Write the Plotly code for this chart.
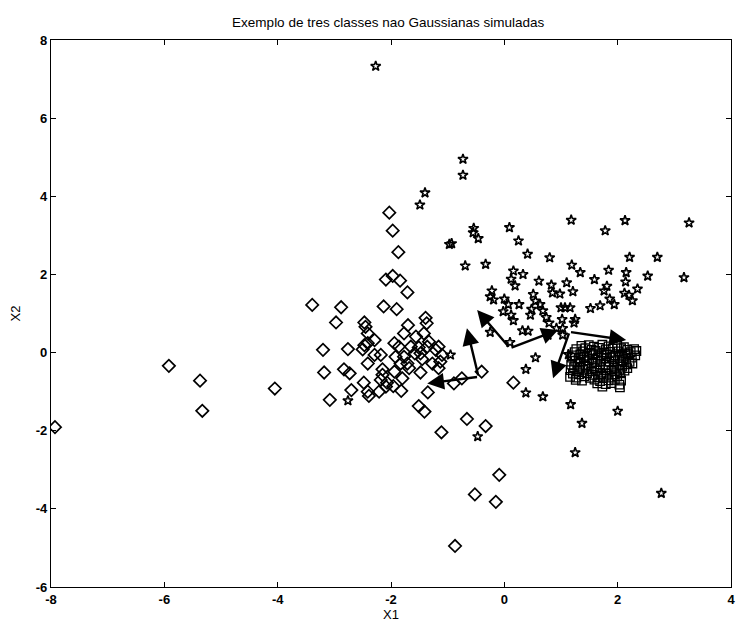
import plotly.graph_objects as go

# ---- data ----
DIAMOND_X = [-7.93, -5.92, -5.37, -5.33, -4.05,
             -3.39, -2.88, -2.97, -3.20, -2.76, -3.18, -2.83, -2.73, -2.70, -3.08,
             -2.03, -1.97, -1.87, -2.09, -1.97, -1.84, -1.71, -2.13, -1.90,
             -2.47, -2.45, -2.41, -2.29, -2.47, -2.41, -2.50, -2.29, -2.18, -2.41, -2.48, -2.41, -2.39, -2.21,
             -2.15, -2.15, -2.18, -2.07, -2.09, -1.96, -1.94, -1.86, -1.92, -1.83, -1.94, -1.80, -1.82,
             -1.71, -1.68, -1.77, -1.70, -1.77, -1.56, -1.65, -1.58, -1.45, -1.48, -1.39, -1.37, -1.42,
             -1.33, -1.36, -1.51, -1.48, -1.27, -1.16, -1.10, -1.21, -1.13, -1.16, -1.35,
             -1.51, -1.41, -1.11, -0.66, -0.33, -0.09, -0.52, -0.15, -0.87,
             -0.89, -0.75, -0.40, 0.16]
DIAMOND_Y = [-1.91, -0.34, -0.72, -1.49, -0.92,
             1.22, 1.16, 0.77, 0.07, 0.09, -0.51, -0.43, -0.53, -0.96, -1.21,
             3.58, 3.12, 2.57, 1.87, 1.96, 1.84, 1.54, 1.18, 1.11,
             0.77, 0.66, 0.49, 0.32, 0.19, 0.24, 0.08, -0.06, -0.06, -0.28, -0.77, -1.00, -1.11, -1.00,
             -0.43, -0.57, -0.70, -0.77, -0.87, -0.86, 0.24, 0.15, -0.11, -0.28, -0.49, -0.66, -0.98,
             -0.28, -0.40, -0.11, 0.70, 0.49, 0.41, 0.15, -0.02, -0.17, -0.51, 0.89, 0.75, 0.49,
             0.28, 0.15, 0.13, -0.02, -0.28, 0.15, -0.06, 0.07, -0.23, -0.40, -1.02,
             -1.37, -1.51, -2.04, -1.70, -1.88, -3.13, -3.63, -3.82, -4.95,
             -0.79, -0.66, -0.49, -0.77]

STAR_X = [-2.27,
          -0.73, -0.73, -1.40, -1.49,
          -0.54, -0.55, -0.46, -0.97, -0.93,
          0.09, 1.18, 0.25, 1.78, 2.13, 3.26,
          0.41, 0.80, -0.69, -0.33, 1.19, 1.34, 2.21, 2.70,
          0.16, 0.33, 0.12, 0.19, 0.61, 0.83, 0.85, 0.98, 1.10, 1.21, 1.59, 1.84, 2.15, 2.14, 2.53, 3.17,
          1.76, 1.81, 2.12, 2.20, 2.35, 2.26, 1.86, 1.94,
          -0.22, -0.25, -0.19, 0.00, 0.07, -0.02, 0.12, 0.16, 0.26, 0.51, 0.55, 0.63, 0.48, 0.46, 0.68,
          0.74, 0.79,
          1.00, 1.07, 1.16, 1.52, 1.69, 1.02, 1.25, 1.23, 0.92, 1.03, 1.03, 0.77, 0.32, 0.42, -0.25, 0.10,
          -0.95, 0.55, 0.38, 1.13, 0.38, 0.68, 1.17, 2.00, 1.37, 1.25, 2.77, -0.47, -2.76]
STAR_Y = [7.33,
          4.95, 4.54, 4.09, 3.78,
          3.18, 3.07, 2.92, 2.77, 2.79,
          3.20, 3.39, 2.86, 3.12, 3.38, 3.32,
          2.52, 2.43, 2.22, 2.26, 2.24, 2.05, 2.44, 2.44,
          2.09, 2.00, 1.88, 1.71, 1.83, 1.73, 1.53, 1.50, 1.79, 1.56, 1.87, 2.11, 2.05, 1.81, 1.96, 1.92,
          1.58, 1.70, 1.52, 1.47, 1.63, 1.33, 1.37, 1.23,
          1.58, 1.43, 1.35, 1.37, 1.23, 1.05, 0.96, 0.82, 1.23, 1.49, 1.32, 1.23, 1.11, 0.96, 1.07,
          0.90, 0.76,
          1.15, 1.15, 1.15, 1.13, 1.20, 0.85, 0.85, 0.76, 0.62, 0.62, 0.45, 0.45, 0.56, 0.55, 0.52, 0.26,
          -0.06, -0.13, -0.43, -0.05, -1.03, -1.13, -1.33, -1.50, -1.81, -2.56, -3.60, -2.15, -1.23]

SQUARE_X = [1.36, 1.49, 1.58, 1.73, 1.84, 1.99, 2.11,
            1.27, 1.43, 1.54, 1.67, 1.79, 1.91, 2.06, 2.17, 2.29,
            1.24, 1.39, 1.51, 1.61, 1.76, 1.87, 2.01, 2.13, 2.23, 2.33,
            1.21, 1.34, 1.46, 1.57, 1.71, 1.81, 1.96, 2.07, 2.19, 2.31,
            1.19, 1.31, 1.41, 1.55, 1.65, 1.79, 1.89, 2.03, 2.15, 2.25,
            1.25, 1.35, 1.49, 1.61, 1.71, 1.85, 1.95, 2.09, 2.21,
            1.18, 1.29, 1.43, 1.55, 1.69, 1.79, 1.93, 2.05, 2.15, 2.26,
            1.23, 1.34, 1.47, 1.59, 1.69, 1.84, 1.94, 2.08, 2.17,
            1.17, 1.29, 1.39, 1.53, 1.64, 1.78, 1.89, 2.03, 2.12,
            1.21, 1.32, 1.46, 1.56, 1.71, 1.81, 1.95, 2.05,
            1.16, 1.27, 1.41, 1.51, 1.65, 1.75, 1.89, 1.99,
            1.26, 1.37, 1.59, 1.69, 1.84, 1.95, 2.06,
            1.64, 1.79, 1.89, 2.03,
            1.73, 2.04]
SQUARE_Y = [0.17, 0.19, 0.15, 0.20, 0.16, 0.18, 0.14,
            0.09, 0.11, 0.07, 0.12, 0.08, 0.10, 0.11, 0.07, 0.09,
            0.01, 0.03, -0.01, 0.04, 0.00, 0.02, 0.03, -0.02, 0.01, 0.04,
            -0.07, -0.05, -0.08, -0.04, -0.07, -0.05, -0.08, -0.06, -0.04, -0.07,
            -0.13, -0.15, -0.12, -0.16, -0.13, -0.15, -0.12, -0.14, -0.16, -0.13,
            -0.21, -0.23, -0.20, -0.24, -0.21, -0.23, -0.22, -0.20, -0.24,
            -0.31, -0.29, -0.32, -0.28, -0.30, -0.31, -0.29, -0.32, -0.30, -0.28,
            -0.37, -0.39, -0.36, -0.40, -0.38, -0.37, -0.39, -0.36, -0.40,
            -0.45, -0.47, -0.44, -0.48, -0.46, -0.45, -0.47, -0.44, -0.46,
            -0.54, -0.56, -0.53, -0.57, -0.55, -0.54, -0.56, -0.53,
            -0.62, -0.64, -0.61, -0.65, -0.63, -0.62, -0.64, -0.61,
            -0.70, -0.72, -0.69, -0.73, -0.71, -0.70, -0.72,
            -0.79, -0.81, -0.78, -0.82,
            -0.87, -0.89]

# arrows: origin -> tip (two per class)
ARROW_X0 = [-0.455, -0.455, 0.10, 0.10, 1.15, 1.15]
ARROW_Y0 = [-0.62, -0.62, 0.11, 0.11, 0.53, 0.53]
ARROW_X1 = [-1.36, -0.66, -0.48, 0.95, 2.15, 0.86]
ARROW_Y1 = [-0.79, 0.62, 1.09, 0.58, 0.32, -0.66]

X_TICKS = [-8, -6, -4, -2, 0, 2, 4]
Y_TICKS = [-6, -4, -2, 0, 2, 4, 6, 8]

FONT = "Liberation Sans, Arial, sans-serif"

fig = go.Figure()
fig.add_trace(go.Scatter(x=DIAMOND_X, y=DIAMOND_Y, mode="markers", name="classe 1",
                         marker=dict(symbol="diamond-open", size=9.5, color="black",
                                     line=dict(width=1.7, color="black"))))
fig.add_trace(go.Scatter(x=STAR_X, y=STAR_Y, mode="markers", name="classe 2",
                         marker=dict(symbol="star-open", size=7.5, color="black",
                                     line=dict(width=1.6, color="black"))))
fig.add_trace(go.Scatter(x=SQUARE_X, y=SQUARE_Y, mode="markers", name="classe 3",
                         marker=dict(symbol="square-open", size=8.5, color="black",
                                     line=dict(width=1.3, color="black"))))

for x0, y0, x1, y1 in zip(ARROW_X0, ARROW_Y0, ARROW_X1, ARROW_Y1):
    fig.add_annotation(x=x1, y=y1, ax=x0, ay=y0, xref="x", yref="y", axref="x", ayref="y",
                       text="", showarrow=True, arrowhead=2, arrowsize=1.4,
                       arrowwidth=2.4, arrowcolor="black")

axis_common = dict(showgrid=False, zeroline=False, showline=True, linecolor="black",
                   linewidth=1.3, mirror="ticks", ticks="inside", ticklen=5,
                   tickcolor="black", tickwidth=1.3, ticklabeloverflow="allow",
                   automargin=False,
                   tickfont=dict(family=FONT, size=13, color="black", weight="bold"))

fig.update_xaxes(range=[-8, 4], tickvals=X_TICKS, ticktext=[str(v) for v in X_TICKS],
                 title=dict(text="X1", font=dict(family=FONT, size=13, color="black"), standoff=4),
                 **axis_common)
fig.update_yaxes(range=[-6, 8], tickvals=Y_TICKS, ticktext=[str(v) for v in Y_TICKS],
                 title=dict(text="X2", font=dict(family=FONT, size=13, color="black"), standoff=12),
                 **axis_common)

fig.update_layout(
    width=738, height=624,
    margin=dict(l=51, r=7, t=40, b=37, pad=0, autoexpand=False),
    paper_bgcolor="white", plot_bgcolor="white",
    showlegend=False,
    title=dict(text="Exemplo de tres classes nao Gaussianas simuladas",
               x=0.526, xanchor="center", y=1 - 22 / 624, yanchor="middle", yref="container",
               font=dict(family=FONT, size=13.5, color="black")),
)

fig.write_html("out.html", config={"displayModeBar": False},
               post_script="document.body.style.margin='0';")
